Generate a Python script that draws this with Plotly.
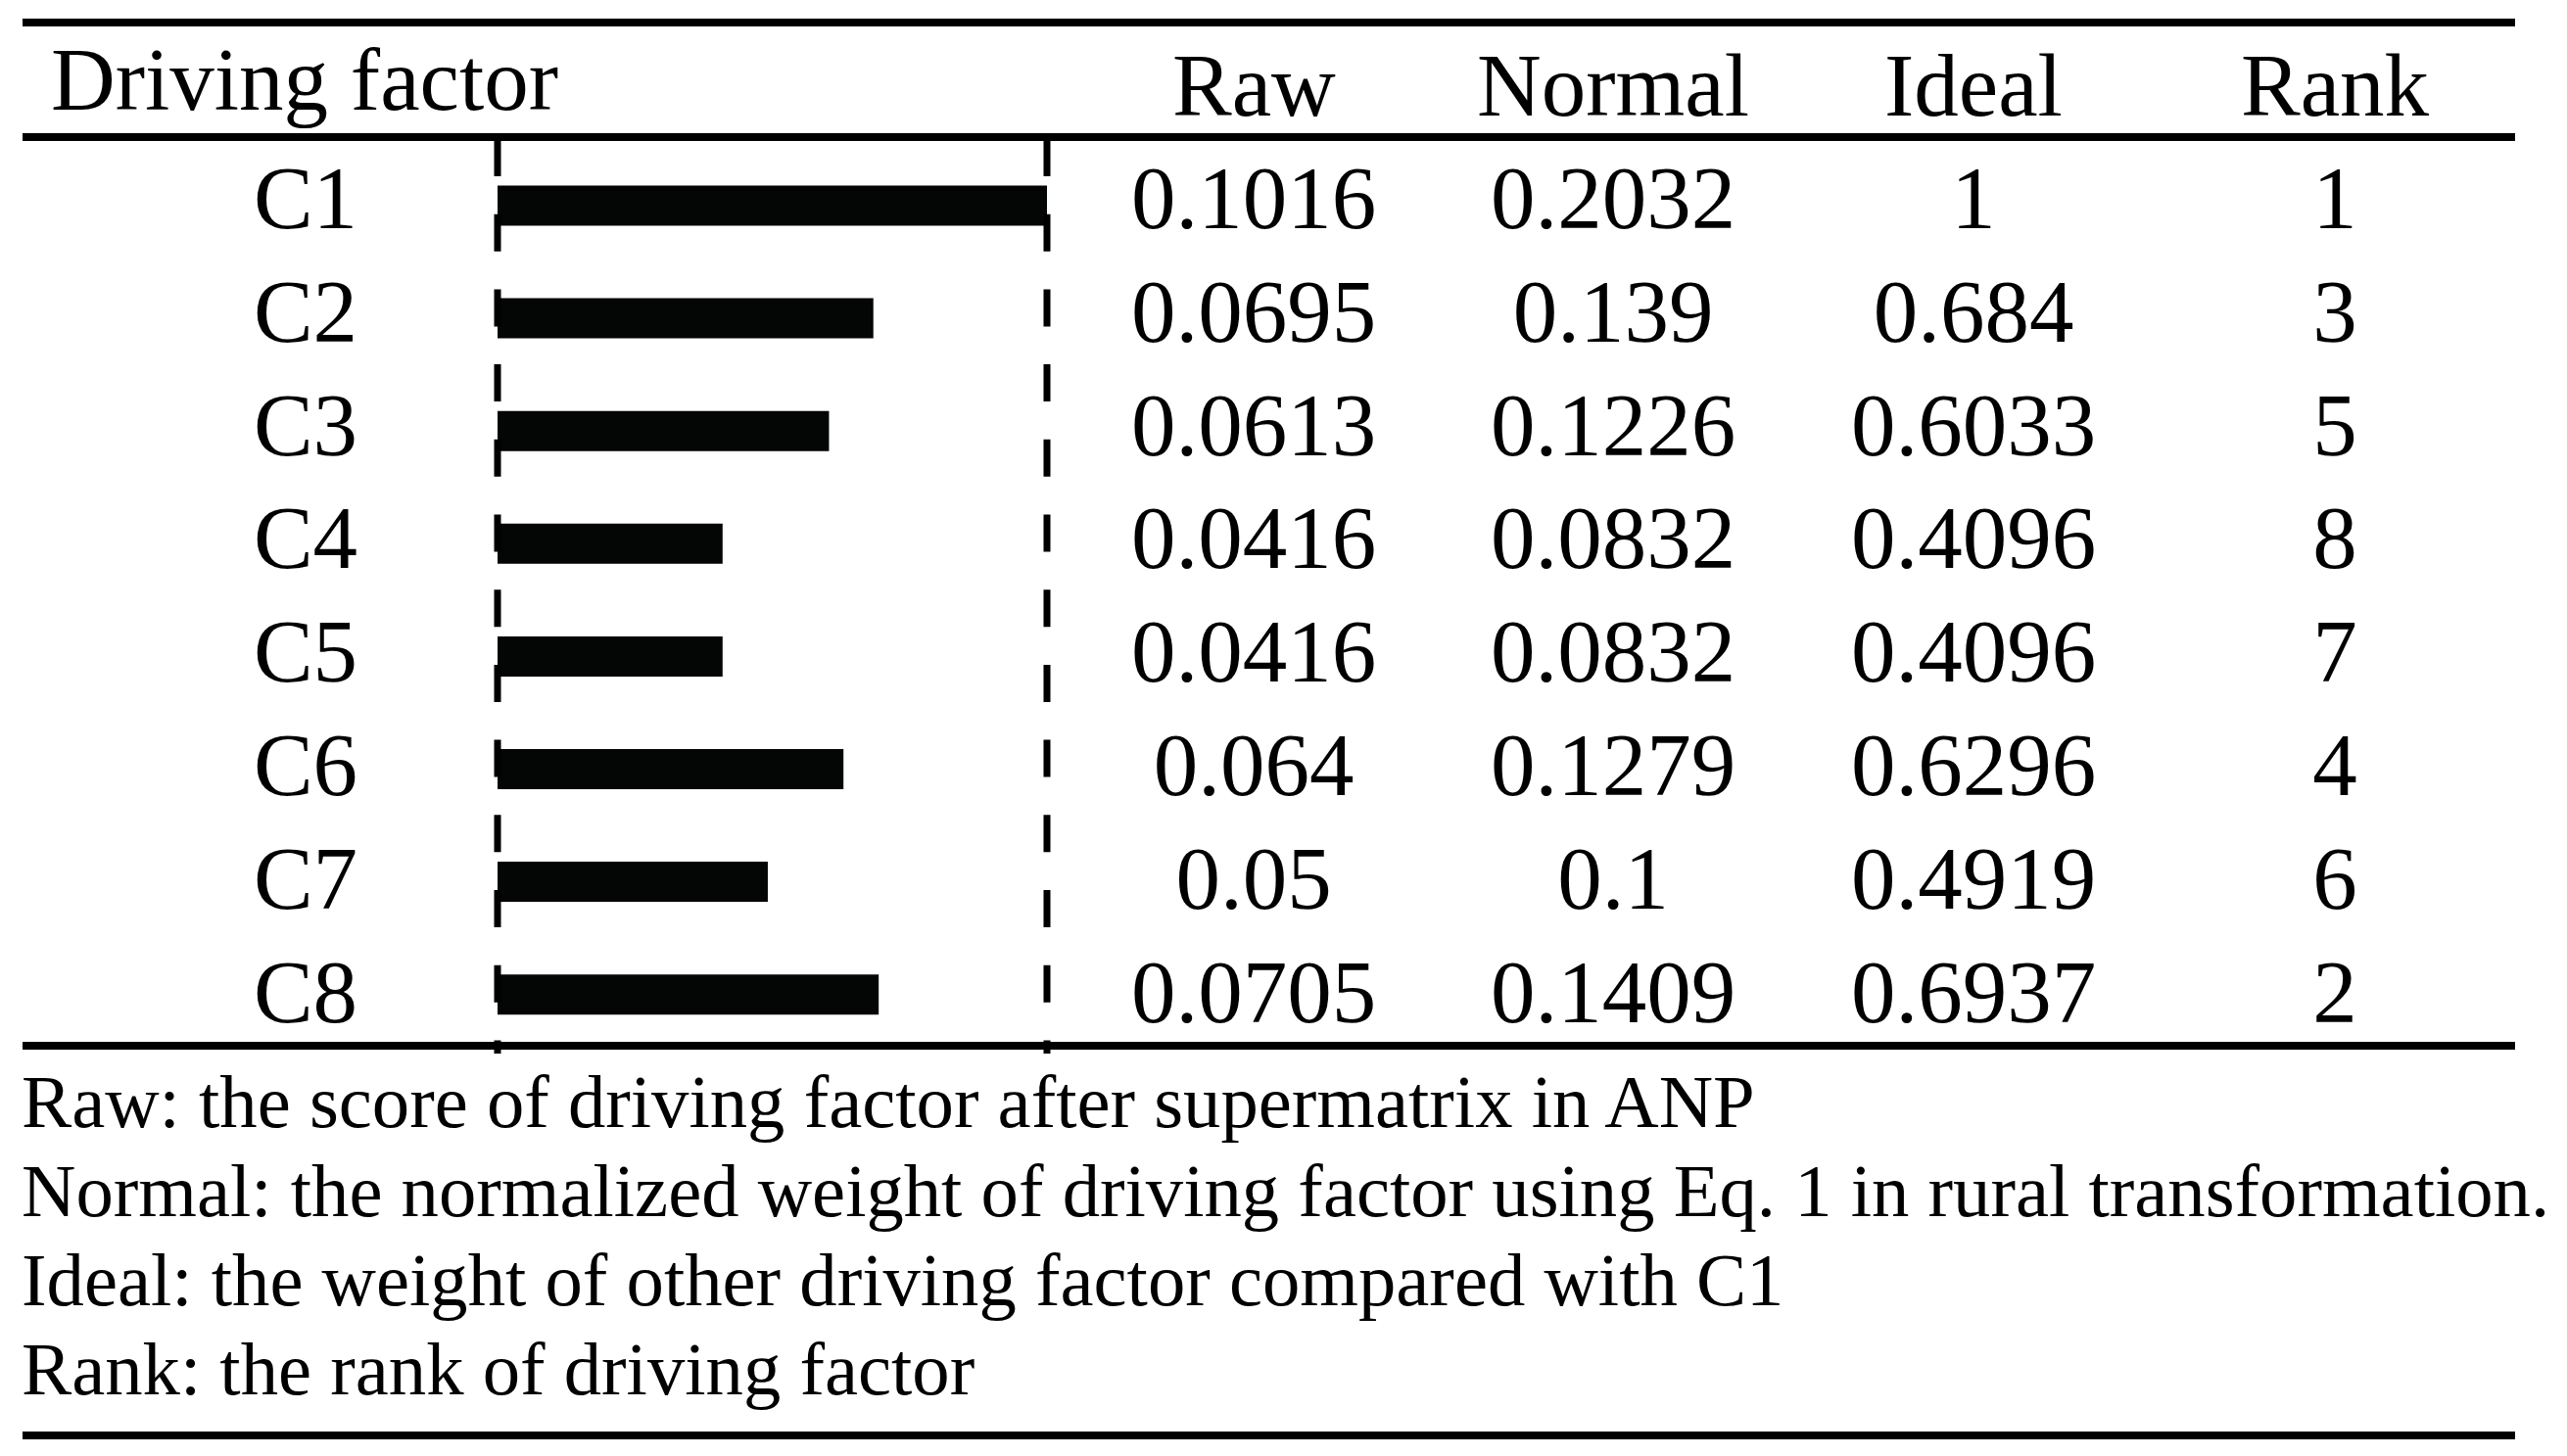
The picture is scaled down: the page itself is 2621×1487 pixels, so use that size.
import plotly.graph_objects as go

# Data
factors = ["C1", "C2", "C3", "C4", "C5", "C6", "C7", "C8"]
raw = [0.1016, 0.0695, 0.0613, 0.0416, 0.0416, 0.064, 0.05, 0.0705]
normal = [0.2032, 0.139, 0.1226, 0.0832, 0.0832, 0.1279, 0.1, 0.1409]
ideal = [1, 0.684, 0.6033, 0.4096, 0.4096, 0.6296, 0.4919, 0.6937]
rank = [1, 3, 5, 8, 7, 4, 6, 2]

headers = ["Raw", "Normal", "Ideal", "Rank"]
notes = [
    "Raw: the score of driving factor after supermatrix in ANP",
    "Normal: the normalized weight of driving factor using Eq. 1 in rural transformation.",
    "Ideal: the weight of other driving factor compared with C1",
    "Rank: the rank of driving factor",
]

# Layout (pixels of the 2621x1487 page)
W, H = 2621, 1487
FONT = "Liberation Serif"
txt_top, txt_pitch = 210, 115.9    # text row centres
bar_top, bar_pitch = 210, 115.1    # bar row centres
col_x = [1280, 1647, 2015, 2384]
label_x = 312
bar_x0, bar_x1 = 508, 1069
pad = 30  # keep the dashed guides inside the clipped plot area
span = bar_x1 - bar_x0


def py(p):
    return 1 - p / H


fig = go.Figure()

# bars (ideal weight)
fig.add_trace(go.Bar(
    x=ideal, y=factors, orientation="h", xaxis="x2", yaxis="y2",
    marker=dict(color="#040505", line=dict(width=0)),
    width=41 / bar_pitch, hoverinfo="skip",
))

# table cells
fig.add_trace(go.Scatter(
    x=[label_x] * len(factors), y=factors, mode="text", text=factors,
    textfont=dict(family=FONT, size=91, color="black"), hoverinfo="skip",
))
for cx, col in zip(col_x, [raw, normal, ideal, rank]):
    fig.add_trace(go.Scatter(
        x=[cx] * len(factors), y=factors, mode="text", text=[str(v) for v in col],
        textfont=dict(family=FONT, size=91, color="black"), hoverinfo="skip",
    ))

# header + notes
ann = [dict(x=50 / W, y=py(81), xref="paper", yref="paper", text="Driving factor",
            xanchor="left", yanchor="middle", showarrow=False,
            font=dict(family=FONT, size=91, color="black"))]
for cx, h in zip(col_x, headers):
    ann.append(dict(x=cx / W, y=py(88), xref="paper", yref="paper", text=h,
                    xanchor="center", yanchor="middle", showarrow=False,
                    font=dict(family=FONT, size=91, color="black")))
for i, n in enumerate(notes):
    ann.append(dict(x=20 / W, y=py(1125 + 91.3 * i), xref="paper", yref="paper", text=n,
                    xanchor="left", yanchor="middle", showarrow=False,
                    font=dict(family=FONT, size=76.7, color="black")))

# rules
shapes = []
for ry in [23, 140, 1068, 1466]:
    shapes.append(dict(type="line", xref="paper", yref="paper",
                       x0=23 / W, x1=2568 / W, y0=py(ry), y1=py(ry),
                       line=dict(color="black", width=8)))
# dashed guides at 0 and 1
for gx in [0, 1]:
    shapes.append(dict(type="line", xref="x2", yref="paper",
                       x0=gx, x1=gx, y0=py(142), y1=py(1076),
                       line=dict(color="black", width=7, dash="38px,38.7px")))

fig.update_layout(
    width=W, height=H,
    margin=dict(l=0, r=0, t=0, b=0),
    paper_bgcolor="white", plot_bgcolor="rgba(0,0,0,0)",
    showlegend=False,
    annotations=ann, shapes=shapes,
    xaxis=dict(domain=[0, 1], range=[0, W], visible=False, fixedrange=True),
    yaxis=dict(type="category", categoryorder="array", categoryarray=factors,
               range=[(H - txt_top) / txt_pitch, -txt_top / txt_pitch],
               visible=False, fixedrange=True),
    xaxis2=dict(domain=[(bar_x0 - pad) / W, (bar_x1 + pad) / W],
                range=[-pad / span, 1 + pad / span], anchor="y2",
                visible=False, fixedrange=True),
    yaxis2=dict(type="category", categoryorder="array", categoryarray=factors,
                range=[(H - bar_top) / bar_pitch, -bar_top / bar_pitch],
                domain=[0, 1], anchor="x2", visible=False, fixedrange=True),
)

fig.write_html("out.html", config={"displayModeBar": False},
               post_script="document.body.style.margin='0px';")
